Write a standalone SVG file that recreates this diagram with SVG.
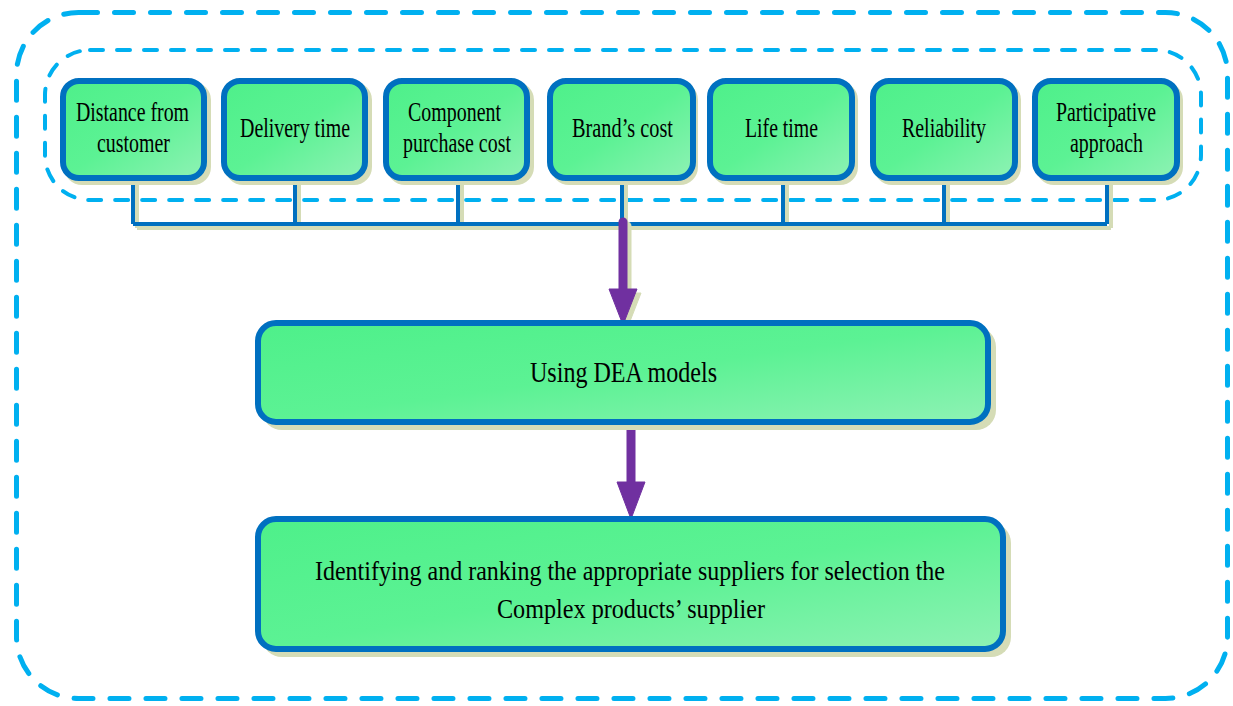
<svg xmlns="http://www.w3.org/2000/svg" width="1233" height="706" viewBox="0 0 1233 706">
<defs>
<linearGradient id="g" x1="0" y1="0" x2="1" y2="1">
<stop offset="0" stop-color="#4ef08a"/>
<stop offset="0.5" stop-color="#5cf294"/>
<stop offset="1" stop-color="#8ef2b4"/>
</linearGradient>
<style>
.box{fill:url(#g);stroke:#0070c0;stroke-width:6}
.sh{fill:#d5dcb6}
.t{font-family:"Liberation Serif","Times New Roman",serif;font-size:27px;fill:#000;text-anchor:start}
.c{fill:none;stroke:#0070c0;stroke-width:4}
.cs{fill:none;stroke:#d5dcb6;stroke-width:4}
.ar{fill:#7030a0;stroke:#7030a0}
.as{fill:#d5dcb6;stroke:#d5dcb6}
</style>
</defs>
<rect x="16.5" y="12.5" width="1211" height="686" rx="62" fill="none" stroke="#00b0f0" stroke-width="5" stroke-dasharray="19 17" stroke-linecap="round"/>
<rect x="45" y="50" width="1156" height="150" rx="45" fill="none" stroke="#00b0f0" stroke-width="4" stroke-dasharray="13 14" stroke-linecap="round"/>
<g id="connectors">
<path class="cs" d="M137 185V228M299 185V228M462 185V228M626 185V228M787 185V228M948 185V228M1111 185V228M137 228H1111"/>
<path class="c" d="M133 181V224M295 181V224M458 181V224M622 181V224M783 181V224M944 181V224M1107 181V224M133 224H1107"/>
<path class="as" stroke-width="9" stroke-linecap="round" d="M627 226V293"/>
<polygon class="as" points="613,293 641,293 627,329"/>
<path class="ar" stroke-width="9" stroke-linecap="round" d="M623 222V290"/>
<polygon class="ar" stroke-width="1" points="609,289 637,289 623,325"/>
<path class="ar" stroke-width="9" stroke-linecap="round" d="M631 424V484"/>
<polygon class="ar" stroke-width="1" points="617,482 645,482 631,519"/>
</g>
<g id="n1"><rect class="sh" x="64" y="82" width="147" height="103" rx="18"/><rect class="box" x="63" y="81" width="141" height="97" rx="16"/>
<text class="t" x="76" y="121" textLength="113" lengthAdjust="spacingAndGlyphs">Distance from</text>
<text class="t" x="97" y="152" textLength="73" lengthAdjust="spacingAndGlyphs">customer</text></g>
<g id="n2"><rect class="sh" x="225" y="82" width="147" height="103" rx="18"/><rect class="box" x="224" y="81" width="141" height="97" rx="16"/>
<text class="t" x="240" y="137" textLength="110" lengthAdjust="spacingAndGlyphs">Delivery time</text></g>
<g id="n3"><rect class="sh" x="387" y="82" width="147" height="103" rx="18"/><rect class="box" x="386" y="81" width="141" height="97" rx="16"/>
<text class="t" x="408" y="121" textLength="93" lengthAdjust="spacingAndGlyphs">Component</text>
<text class="t" x="403" y="152" textLength="108" lengthAdjust="spacingAndGlyphs">purchase cost</text></g>
<g id="n4"><rect class="sh" x="551" y="82" width="147" height="103" rx="18"/><rect class="box" x="550" y="81" width="143" height="97" rx="16"/>
<text class="t" x="572" y="137" textLength="101" lengthAdjust="spacingAndGlyphs">Brand’s cost</text></g>
<g id="n5"><rect class="sh" x="711" y="82" width="147" height="103" rx="18"/><rect class="box" x="710" y="81" width="142" height="97" rx="16"/>
<text class="t" x="745" y="137" textLength="73" lengthAdjust="spacingAndGlyphs">Life time</text></g>
<g id="n6"><rect class="sh" x="874" y="82" width="147" height="103" rx="18"/><rect class="box" x="873" y="81" width="142" height="97" rx="16"/>
<text class="t" x="902" y="137" textLength="84" lengthAdjust="spacingAndGlyphs">Reliability</text></g>
<g id="n7"><rect class="sh" x="1036" y="82" width="147" height="103" rx="18"/><rect class="box" x="1035" y="81" width="142" height="97" rx="16"/>
<text class="t" x="1056" y="121" textLength="100" lengthAdjust="spacingAndGlyphs">Participative</text>
<text class="t" x="1070" y="152" textLength="73" lengthAdjust="spacingAndGlyphs">approach</text></g>
<g id="n8"><rect class="sh" x="262" y="327" width="734" height="103" rx="20"/><rect class="box" x="258" y="323" width="730" height="99" rx="18"/>
<text class="t" style="font-size:30px" x="530" y="382" textLength="187" lengthAdjust="spacingAndGlyphs">Using DEA models</text></g>
<g id="n9"><rect class="sh" x="262" y="523" width="749" height="134" rx="20"/><rect class="box" x="258" y="519" width="745" height="130" rx="18"/>
<text class="t" style="font-size:28px" x="315" y="580" textLength="630" lengthAdjust="spacingAndGlyphs">Identifying and ranking the appropriate suppliers for selection the</text>
<text class="t" style="font-size:28px" x="497" y="618" textLength="268" lengthAdjust="spacingAndGlyphs">Complex products’ supplier</text></g>
</svg>
